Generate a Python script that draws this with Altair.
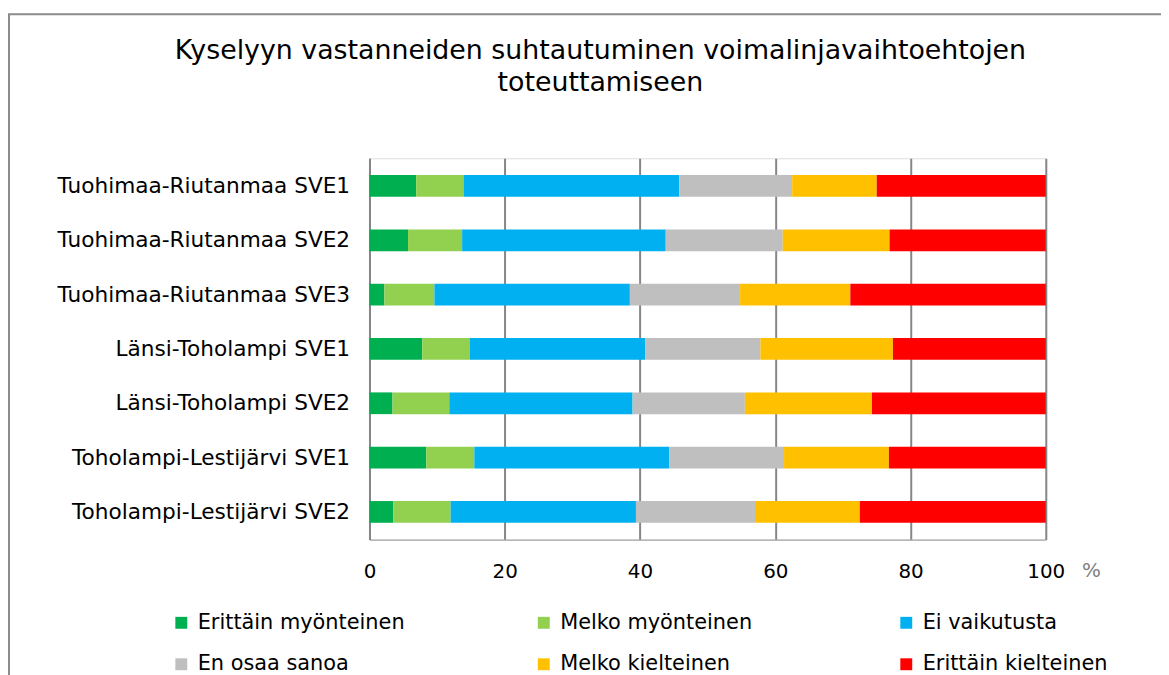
import altair as alt
import pandas as pd

categories = [
    "Tuohimaa-Riutanmaa SVE1",
    "Tuohimaa-Riutanmaa SVE2",
    "Tuohimaa-Riutanmaa SVE3",
    "Länsi-Toholampi SVE1",
    "Länsi-Toholampi SVE2",
    "Toholampi-Lestijärvi SVE1",
    "Toholampi-Lestijärvi SVE2",
]

series = [
    "Erittäin myönteinen",
    "Melko myönteinen",
    "Ei vaikutusta",
    "En osaa sanoa",
    "Melko kielteinen",
    "Erittäin kielteinen",
]

colors = ["#00B050", "#92D050", "#00B0F0", "#BFBFBF", "#FFC000", "#FF0000"]

erittain_myonteinen = [6.9, 5.7, 2.2, 7.8, 3.4, 8.4, 3.5]
melko_myonteinen = [7.0, 8.0, 7.4, 7.0, 8.4, 7.1, 8.5]
ei_vaikutusta = [31.9, 30.1, 28.9, 26.0, 27.1, 28.8, 27.4]
en_osaa_sanoa = [16.7, 17.3, 16.3, 17.0, 16.6, 17.0, 17.6]
melko_kielteinen = [12.5, 15.8, 16.3, 19.6, 18.8, 15.5, 15.5]
erittain_kielteinen = [25.0, 23.1, 28.9, 22.6, 25.7, 23.2, 27.5]

values = [erittain_myonteinen, melko_myonteinen, ei_vaikutusta,
          en_osaa_sanoa, melko_kielteinen, erittain_kielteinen]

x_ticks = [0, 20, 40, 60, 80, 100]

rows = []
for si, (name, vals) in enumerate(zip(series, values)):
    for ci, cat in enumerate(categories):
        rows.append({"category": cat, "series": name, "value": vals[ci], "order": si})
df = pd.DataFrame(rows)

FONT = "DejaVu Sans"

bars = alt.Chart(df).mark_bar().encode(
    y=alt.Y(
        "category:N",
        sort=categories,
        title=None,
        scale=alt.Scale(paddingInner=0.6, paddingOuter=0.31),
        axis=alt.Axis(
            ticks=False,
            labelPadding=20,
            labelFontSize=21.8,
            labelColor="#000000",
            labelFont=FONT,
            domainColor="#868686",
            domainWidth=2,
            labelLimit=400,
        ),
    ),
    x=alt.X(
        "value:Q",
        stack="zero",
        scale=alt.Scale(domain=[0, 100], nice=False),
        title="%",
        axis=alt.Axis(
            values=x_ticks,
            ticks=False,
            labelFlush=False,
            labelPadding=22,
            labelFontSize=20,
            labelColor="#000000",
            labelFont=FONT,
            grid=True,
            gridColor="#868686",
            gridWidth=2,
            domainColor="#A6A6A6",
            domainWidth=1.5,
            titleFont=FONT,
            titleFontSize=20,
            titleFontWeight="normal",
            titleColor="#7F7F7F",
            titleAnchor="start",
            titleAlign="left",
            titleBaseline="middle",
            titleX=717,
            titleY=31,
        ),
    ),
    color=alt.Color(
        "series:N",
        sort=series,
        scale=alt.Scale(domain=series, range=colors),
        legend=alt.Legend(
            title=None,
            orient="none",
            legendX=-200,
            legendY=457,
            direction="horizontal",
            columns=3,
            gridAlign="all",
            columnPadding=129,
            rowPadding=20,
            symbolType="square",
            symbolSize=144,
            symbolStrokeWidth=0,
            labelOffset=6,
            labelFontSize=21,
            labelFont=FONT,
            labelColor="#000000",
            labelLimit=400,
        ),
    ),
    order=alt.Order("order:Q", sort="ascending"),
    tooltip=["category:N", "series:N", "value:Q"],
)

frame = alt.Chart(alt.Data(values=[{"frame": 1}])).mark_rect(
    filled=False, stroke="#8C8C8C", strokeWidth=2
).encode(
    x=alt.value(-363),
    x2=alt.value(900),
    y=alt.value(-145),
    y2=alt.value(700),
)

chart = alt.layer(frame, bars).properties(
    width=681,
    height=384,
    padding={"left": 364, "top": 149, "right": 116, "bottom": 134},
    autosize=alt.AutoSizeParams(type="none"),
    title=alt.TitleParams(
        text=["Kyselyyn vastanneiden suhtautuminen voimalinjavaihtoehtojen",
              "toteuttamiseen"],
        font=FONT,
        fontSize=27,
        fontWeight="normal",
        color="#000000",
        anchor="middle",
        frame="group",
        dx=-108,
        dy=84,
        offset=0,
        lineHeight=32,
    ),
).configure_view(stroke=None).configure(background="white")

chart.save("out.html", embed_options={"renderer": "svg", "actions": False})
